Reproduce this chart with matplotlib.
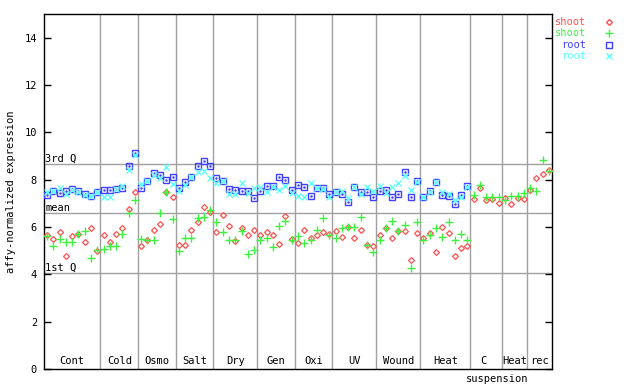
import numpy as np
import matplotlib.pyplot as plt

# sample groups along the x axis
groups = ["Cont", "Cold", "Osmo", "Salt", "Dry", "Gen", "Oxi", "UV", "Wound", "Heat", "C", "Heat", "rec"]
group_sizes = [9, 6, 6, 6, 7, 6, 6, 7, 7, 8, 5, 4, 4]

shoot_a = [5.65, 5.50, 5.77, 4.76, 5.60, 5.71, 5.35, 5.96, 4.97, 5.67, 5.35, 5.71, 5.96, 6.74, 7.49,
           5.21, 5.47, 5.88, 6.13, 7.47, 7.28, 5.25, 5.25, 5.88, 6.22, 6.86, 6.65, 5.77, 6.51, 6.05,
           5.39, 5.96, 5.67, 5.88, 5.67, 5.77, 5.67, 5.29, 6.48, 5.50, 5.33, 5.89, 5.52, 5.67, 5.77,
           5.71, 5.85, 5.57, 6.02, 5.55, 5.88, 5.26, 5.18, 5.67, 5.95, 5.55, 5.85, 5.85, 4.62, 5.76,
           5.54, 5.75, 4.95, 5.99, 5.75, 4.79, 5.12, 5.18, 7.19, 7.64, 7.14, 7.19, 7.02, 7.23, 6.98,
           7.23, 7.19, 7.56, 8.07, 8.25, 8.42]
shoot_b = [5.63, 5.18, 5.50, 5.38, 5.38, 5.71, 5.85, 4.67, 5.01, 5.07, 5.18, 5.18, 5.71, 6.61, 7.12,
           5.50, 5.43, 5.47, 6.61, 7.47, 6.34, 4.97, 5.54, 5.54, 6.36, 6.44, 6.72, 6.23, 5.77, 5.46,
           5.46, 5.85, 4.84, 5.01, 5.47, 5.55, 5.15, 6.06, 6.27, 5.47, 5.60, 5.33, 5.43, 5.88, 6.39,
           5.68, 5.55, 5.96, 5.99, 5.99, 6.44, 5.22, 4.94, 5.46, 5.96, 6.27, 5.85, 6.09, 4.28, 6.22,
           5.43, 5.68, 5.96, 5.57, 6.23, 5.43, 5.71, 5.46, 7.37, 7.79, 7.28, 7.28, 7.28, 7.14, 7.33,
           7.33, 7.42, 7.65, 7.54, 8.83, 8.38]
root_a = [7.37, 7.54, 7.44, 7.51, 7.59, 7.51, 7.40, 7.33, 7.47, 7.57, 7.57, 7.60, 7.66, 8.56, 9.11,
          7.65, 7.96, 8.27, 8.21, 8.00, 8.13, 7.65, 7.89, 8.11, 8.59, 8.79, 8.59, 8.07, 7.96, 7.61,
          7.57, 7.52, 7.52, 7.23, 7.52, 7.75, 7.72, 8.13, 7.99, 7.57, 7.78, 7.71, 7.33, 7.65, 7.65,
          7.40, 7.49, 7.40, 7.07, 7.71, 7.47, 7.47, 7.28, 7.54, 7.57, 7.28, 7.40, 8.34, 7.28, 7.96,
          7.26, 7.51, 7.89, 7.36, 7.30, 6.98, 7.36, 7.72]
root_b = [7.49, 7.52, 7.65, 7.40, 7.57, 7.50, 7.35, 7.33, 7.46, 7.26, 7.26, 7.59, 7.73, 8.41, 9.05,
          7.80, 7.95, 8.20, 8.07, 8.55, 7.82, 7.51, 7.79, 8.10, 8.34, 8.38, 8.07, 7.87, 7.95, 7.40,
          7.40, 7.86, 7.42, 7.63, 7.68, 7.47, 7.70, 7.57, 7.75, 7.42, 7.33, 7.26, 7.85, 7.65, 7.62,
          7.28, 7.50, 7.54, 7.23, 7.70, 7.40, 7.68, 7.51, 7.75, 7.42, 7.71, 7.85, 8.17, 7.57, 7.89,
          7.26, 7.47, 7.89, 7.47, 7.40, 7.12, 7.26, 7.68]

q1, mean_val, q3 = 4.06, 6.61, 8.66

RED = "#ff5050"
GREEN = "#40f040"
BLUE = "#4040ff"
CYAN = "#60ffff"
GRID = "#a0a0a0"

plt.rcParams["font.family"] = "DejaVu Sans Mono"
fig = plt.figure(figsize=(6.4, 3.84), dpi=100)
ax = fig.add_axes([44 / 640, 1 - 369 / 384, 508 / 640, 355 / 384])

n = len(shoot_a)
ax.set_xlim(-0.5, n - 0.5)
ax.set_ylim(0, 15)

# quartile / mean lines
for v in (q1, mean_val, q3):
    ax.axhline(v, color=GRID, lw=1, zorder=1)
ax.text(-0.3, q3, "3rd Q", ha="left", va="bottom", fontsize=7.5)
ax.text(-0.3, mean_val, "mean", ha="left", va="bottom", fontsize=7.5)
ax.text(-0.3, q1, "1st Q", ha="left", va="bottom", fontsize=7.5)

# group separators and labels
start = 0
for k, (g, size) in enumerate(zip(groups, group_sizes)):
    end = start + size
    if k < len(groups) - 1:
        ax.axvline(end - 0.5, color=GRID, lw=1, zorder=1)
    center = (start + end - 1) / 2
    if g == "C":
        ax.text(center - 0.5, 0.12, g, ha="center", va="bottom", fontsize=7.5)
        ax.text(center + 1.7, -0.42, "suspension", ha="center", va="center", fontsize=7.5, clip_on=False)
    else:
        ax.text(center, 0.12, g, ha="center", va="bottom", fontsize=7.5)
    start = end

xs = np.arange(n)
xr = np.arange(len(root_a))
ax.plot(xs, shoot_a, ls="none", marker="D", ms=3.0, mfc="none", mec=RED, mew=0.9, zorder=3)
ax.plot(xs, shoot_b, ls="none", marker="+", ms=5.5, mec=GREEN, mew=1.0, zorder=3)
ax.plot(xr, root_a, ls="none", marker="s", ms=3.8, mfc="none", mec=BLUE, mew=1.0, zorder=3)
ax.plot(xr, root_a, ls="none", marker=".", ms=1.5, color=BLUE, zorder=3)
ax.plot(xr, root_b, ls="none", marker="x", ms=3.8, mec=CYAN, mew=1.0, zorder=3)

ax.set_xticks([])
ax.set_yticks(np.arange(0, 15, 2))
ax.tick_params(axis="y", direction="in", length=5, width=1, right=True, labelsize=7.5, pad=5)
for s in ax.spines.values():
    s.set_linewidth(1)
ax.set_ylabel("affy-normalized expression", fontsize=7.5, labelpad=6)

# legend outside on the right
labels = ["shoot", "shoot", "root", "root"]
colors = [RED, GREEN, BLUE, CYAN]
markers = ["D", "+", "s", "x"]
msizes = [3.0, 5.5, 3.8, 3.8]
for k in range(4):
    yy = 1 - (22 + 11.3 * k) / 384
    fig.text(586 / 640, yy, labels[k], color=colors[k], ha="right", va="center", fontsize=7.5)
    fc = "none" if markers[k] in ("D", "s") else colors[k]
    fig.lines.append(plt.Line2D([609 / 640], [yy], transform=fig.transFigure, ls="none",
                                marker=markers[k], ms=msizes[k], mfc=fc, mec=colors[k], mew=1.0))

fig.savefig("out.png", dpi=100)
